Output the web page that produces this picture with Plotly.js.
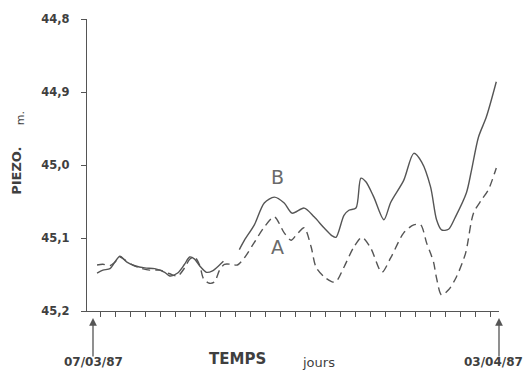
<!DOCTYPE html>
<html>
<head>
<meta charset="utf-8">
<script src="https://cdn.plot.ly/plotly-3.0.1.min.js"></script>
<style>html,body{margin:0;padding:0;background:#fff;}#chart{width:528px;height:378px;}</style>
</head>
<body>
<div id="chart"></div>
<script>
// Days since 07/03/87 and piezometric depth (m) — curve B (solid)
const daysB = [0.27,0.66,1.13,1.46,1.79,2.26,2.79,3.45,4.11,4.78,5.11,5.64,6.10,6.44,6.77,7.10,7.56,7.96,8.43,8.69,9.2,9.75,10.09,10.75,11.41,12.08,12.74,13.27,14.07,14.73,15.39,15.93,16.19,16.72,17.05,17.52,17.85,18.18,18.71,19.38,19.84,20.70,21.37,21.90,22.49,22.89,23.22,23.69,24.15,24.88,25.22,25.68,26.21,26.87];
const levelB = [45.148,45.144,45.142,45.133,45.125,45.133,45.138,45.141,45.142,45.147,45.152,45.148,45.136,45.126,45.129,45.138,45.147,45.145,45.137,45.132,null,45.116,45.103,45.082,45.052,45.044,45.052,45.066,45.059,45.071,45.086,45.097,45.099,45.069,45.062,45.059,45.018,45.023,45.044,45.075,45.051,45.021,44.984,44.996,45.030,45.075,45.089,45.088,45.071,45.038,45.007,44.962,44.934,44.886];
// Curve A (dashed)
const daysA = [0.27,0.66,1.13,1.46,1.79,2.12,2.65,3.12,3.78,4.45,5.11,5.64,6.10,6.44,6.77,7.10,7.37,7.76,8.10,8.43,8.76,9.22,9.62,10.09,10.75,11.41,12.08,12.74,13.20,13.54,14.07,14.53,14.86,15.39,15.93,16.19,16.72,17.39,17.92,18.51,19.24,19.84,20.70,21.37,21.83,22.23,22.49,22.69,22.89,23.22,23.69,24.22,24.82,25.35,25.88,26.34,26.87];
const levelA = [45.137,45.136,45.138,45.133,45.126,45.130,45.137,45.141,45.144,45.144,45.149,45.152,45.141,45.129,45.126,45.137,45.156,45.162,45.160,45.144,45.136,45.136,45.137,45.127,45.106,45.085,45.071,45.093,45.103,45.096,45.086,45.112,45.140,45.153,45.160,45.160,45.140,45.112,45.099,45.114,45.147,45.127,45.093,45.082,45.082,45.107,45.121,45.133,45.155,45.178,45.171,45.153,45.121,45.066,45.048,45.034,45.004];
// Axis ticks
const yTickVals = [44.8,44.9,45.0,45.1,45.2];
const yTickText = ['44,8','44,9','45,0','45,1','45,2'];
const startLabel = '07/03/87';
const endLabel = '03/04/87';
const startDay = 0;
const endDay = 27.05;

const ink = '#3f3f3f';
const fam = 'DejaVu Sans, sans-serif';
const traces = [
  {x: daysB, y: levelB, mode: 'lines', line: {color: '#555', width: 1.4, shape: 'spline', smoothing: 0.8}, hoverinfo: 'skip'},
  {x: daysA, y: levelA, mode: 'lines', line: {color: '#555', width: 1.4, dash: '8px,5px', shape: 'spline', smoothing: 0.8}, hoverinfo: 'skip'}
];

const dateFont = {size: 12, color: ink, weight: 'bold', family: fam};
const arrowStyle = {showarrow: true, arrowhead: 2, arrowsize: 1.2, arrowwidth: 1.3, arrowcolor: '#555', ax: 0, ay: 40, text: ''};

const layout = {
  width: 528, height: 378,
  margin: {l: 87, r: 29, t: 19, b: 67},
  paper_bgcolor: '#fff', plot_bgcolor: '#fff',
  showlegend: false,
  font: {family: fam, color: ink},
  xaxis: {
    range: [-0.4, 27.05], showgrid: false, zeroline: false,
    showline: true, linecolor: '#555', linewidth: 1.2,
    ticks: 'outside', ticklen: 5, tickwidth: 1, tickcolor: '#555',
    tick0: 0.47, dtick: 1, showticklabels: false
  },
  yaxis: {
    range: [45.2, 44.8], showgrid: false, zeroline: false,
    showline: true, linecolor: '#555', linewidth: 1.2,
    ticks: 'outside', ticklen: 5, tickwidth: 1, tickcolor: '#555',
    tickvals: yTickVals, ticktext: yTickText, ticklabelstandoff: 9,
    tickfont: {size: 11.5, color: ink, weight: 'bold', family: fam}
  },
  annotations: [
    {xref: 'x', yref: 'y', x: 12.3, y: 45.016, text: 'B', showarrow: false, font: {size: 19, color: '#6a6a6a', family: fam}},
    {xref: 'x', yref: 'y', x: 12.3, y: 45.113, text: 'A', showarrow: false, font: {size: 19, color: '#6a6a6a', family: fam}},
    {xref: 'paper', yref: 'paper', x: 0, xanchor: 'center', xshift: -70, y: 0.48, text: 'PIEZO.', textangle: -90, showarrow: false, font: {size: 13, color: ink, weight: 'bold', family: fam}},
    {xref: 'paper', yref: 'paper', x: 0, xanchor: 'center', xshift: -67, y: 0.66, text: 'm.', textangle: -90, showarrow: false, font: {size: 11, color: ink, family: fam}},
    Object.assign({xref: 'x', yref: 'paper', x: startDay, y: -0.024}, arrowStyle),
    Object.assign({xref: 'x', yref: 'paper', x: endDay, y: -0.024}, arrowStyle),
    {xref: 'x', yref: 'paper', x: startDay, y: -0.205, text: startLabel, showarrow: false, font: dateFont},
    {xref: 'x', yref: 'paper', x: endDay, xshift: -6, y: -0.205, text: endLabel, showarrow: false, font: dateFont},
    {xref: 'x', yref: 'paper', x: 9.6, y: -0.202, text: 'TEMPS', showarrow: false, font: {size: 15, color: ink, weight: 'bold', family: fam}},
    {xref: 'x', yref: 'paper', x: 15.0, y: -0.21, text: 'jours', showarrow: false, font: {size: 13, color: ink, family: fam}}
  ]
};

Plotly.newPlot('chart', traces, layout, {staticPlot: true, displayModeBar: false});
</script>
</body>
</html>
